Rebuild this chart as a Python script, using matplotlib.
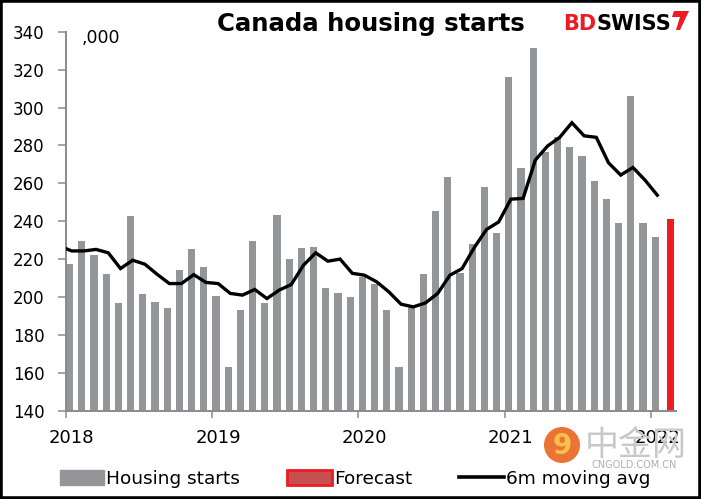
import matplotlib
matplotlib.use("Agg")
import matplotlib.pyplot as plt
import matplotlib.patches as mpatches
from matplotlib.lines import Line2D
import numpy as np
import pandas as pd

# ---------------- data ----------------
months = pd.date_range("2018-01-01", periods=49, freq="MS")
housing_starts = [217.3, 229.9, 222.0, 212.5, 196.7, 242.6, 201.8, 197.7, 194.2, 214.1, 225.2, 215.7,
                  200.9, 163.2, 193.0, 229.7, 197.2, 243.4, 220.2, 226.0, 226.5, 204.9, 202.3, 200.2,
                  210.7, 207.2, 193.5, 163.2, 194.9, 212.0, 245.5, 263.5, 212.8, 228.3, 258.2, 233.6,
                  316.3, 267.9, 331.2, 276.7, 284.6, 279.3, 274.6, 261.4, 251.9, 238.9, 306.2, 239.2,
                  231.5]
forecast_month = pd.Timestamp("2022-02-01")
forecast_value = 241.0
# 6m moving average, Dec 2017 .. Jan 2022
ma_months = pd.date_range("2017-12-01", periods=50, freq="MS")
ma_6m = [227.0,
         224.4, 224.4, 225.2, 223.4, 215.1, 219.5, 217.4, 212.1, 207.2, 207.2, 211.9, 207.8,
         207.2, 202.0, 201.1, 204.1, 199.3, 203.7, 206.7, 216.9, 223.4, 219.0, 220.1, 212.6,
         211.6, 208.1, 202.8, 196.3, 194.9, 197.0, 202.0, 211.6, 215.1, 226.2, 235.7, 239.7,
         251.7, 252.1, 272.3, 279.7, 284.3, 292.0, 285.1, 284.3, 270.9, 264.4, 268.4, 261.7, 253.8]
year_labels = ["2018", "2019", "2020", "2021", "2022"]
y_ticks = [140, 160, 180, 200, 220, 240, 260, 280, 300, 320, 340]

GREY = "#939598"
RED = "#ED1C24"
AXC = "#8a8a8a"

start = months[0]
def idx(ts):
    return (ts.year - start.year) * 12 + (ts.month - start.month)

x_bars = np.array([idx(m) for m in months])
x_ma = np.array([idx(m) for m in ma_months])
x_fc = idx(forecast_month)

fig = plt.figure(figsize=(7.01, 4.99), dpi=100)
ax = fig.add_axes([65.6 / 701, 88 / 499, 610 / 701, 379.3 / 499])

ax.bar(x_bars - 0.17, housing_starts, width=0.6, color=GREY, zorder=2)
ax.bar([x_fc + 0.12], [forecast_value], width=0.57, color=RED, zorder=2)
ax.plot(x_ma, ma_6m, color="black", lw=2.4, zorder=3, solid_joinstyle="miter")

ax.set_xlim(-0.5, 49.5)
ax.set_ylim(140, 340)
ax.set_yticks(y_ticks)
ax.set_yticklabels([str(v) for v in y_ticks], fontsize=12, family="DejaVu Sans")
ax.tick_params(axis="y", direction="out", length=6, width=1.1, color=AXC, pad=9)

# year labels at January category centres, tick marks at category boundaries
ax.set_xticks([12 * k for k in range(len(year_labels))])
ax.set_xticklabels(year_labels, fontsize=13, family="DejaVu Sans")
ax.tick_params(axis="x", which="major", length=0, pad=13)
ax.set_xticks([12 * k - 0.5 for k in range(len(year_labels))], minor=True)
ax.tick_params(axis="x", which="minor", direction="out", length=5, width=1.1, color=AXC)

for s in ["top", "right"]:
    ax.spines[s].set_visible(False)
for s in ["left", "bottom"]:
    ax.spines[s].set_color(AXC)
    ax.spines[s].set_linewidth(1.4)

# ,000 unit label
fig.text(82 / 701, (499 - 43) / 499, ",000", fontsize=12.5, family="DejaVu Sans",
         ha="left", va="baseline")

# title
fig.text(371 / 701, (499 - 30.7) / 499, "Canada housing starts", fontsize=17.6,
         fontweight="bold", family="DejaVu Sans", ha="center", va="baseline")

# BDSWISS logo
t_bd = fig.text(563 / 701, (499 - 29.5) / 499, "BD", fontsize=15, fontweight="bold",
                color=RED, family="DejaVu Sans", ha="left", va="baseline")
plt.annotate("SWISS", xy=(1, 0), xycoords=t_bd, xytext=(0, 0), textcoords="offset points",
             fontsize=15, fontweight="bold", color="black", family="DejaVu Sans",
             ha="left", va="bottom", annotation_clip=False)
# logo mark
mark = mpatches.Polygon([(674 / 701, (499 - 11) / 499), (689 / 701, (499 - 11) / 499),
                         (680 / 701, (499 - 30) / 499), (676 / 701, (499 - 30) / 499),
                         (680 / 701, (499 - 17) / 499), (672 / 701, (499 - 17) / 499)],
                        closed=True, transform=fig.transFigure, facecolor=RED, edgecolor="none")
fig.patches.append(mark)

# watermark
circ = mpatches.Ellipse((562 / 701, (499 - 445) / 499), 36 / 701, 36 / 499,
                        transform=fig.transFigure, facecolor="#E9641F", edgecolor="none",
                        alpha=0.9, zorder=5)
fig.patches.append(circ)
fig.text(562 / 701, (499 - 446) / 499, "9", fontsize=20, fontweight="bold", color="#F7C04A",
         ha="center", va="center", family="DejaVu Sans", zorder=6)
fig.text(636 / 701, (499 - 445) / 499, "中金网", fontsize=24.5, color="#C8C8C8",
         family=["Noto Sans CJK SC", "DejaVu Sans"], ha="center", va="center", zorder=6)
fig.text(634 / 701, (499 - 464.5) / 499, "CNGOLD.COM.CN", fontsize=7, color="#B0B0B0",
         family="DejaVu Sans", ha="center", va="center", zorder=6)

# legend
handles = [mpatches.Patch(facecolor=GREY, edgecolor=GREY, label="Housing starts"),
           mpatches.Patch(facecolor="#C4504F", edgecolor=RED, lw=2, label="Forecast"),
           Line2D([0], [0], color="black", lw=2.6, label="6m moving avg")]
leg = fig.legend(handles=handles, loc="center", bbox_to_anchor=(355 / 701, 20 / 499),
                 ncol=3, frameon=False, prop={"family": "DejaVu Sans", "size": 13.3},
                 handlelength=2.4, handleheight=0.83, handletextpad=0.12,
                 columnspacing=2.55, borderpad=0, borderaxespad=0)

# black frame around the figure
frame = mpatches.Rectangle((0, 0), 1, 1, transform=fig.transFigure, fill=False,
                           edgecolor="black", linewidth=4, zorder=10)
fig.patches.append(frame)

fig.savefig("out.png", dpi=100)
